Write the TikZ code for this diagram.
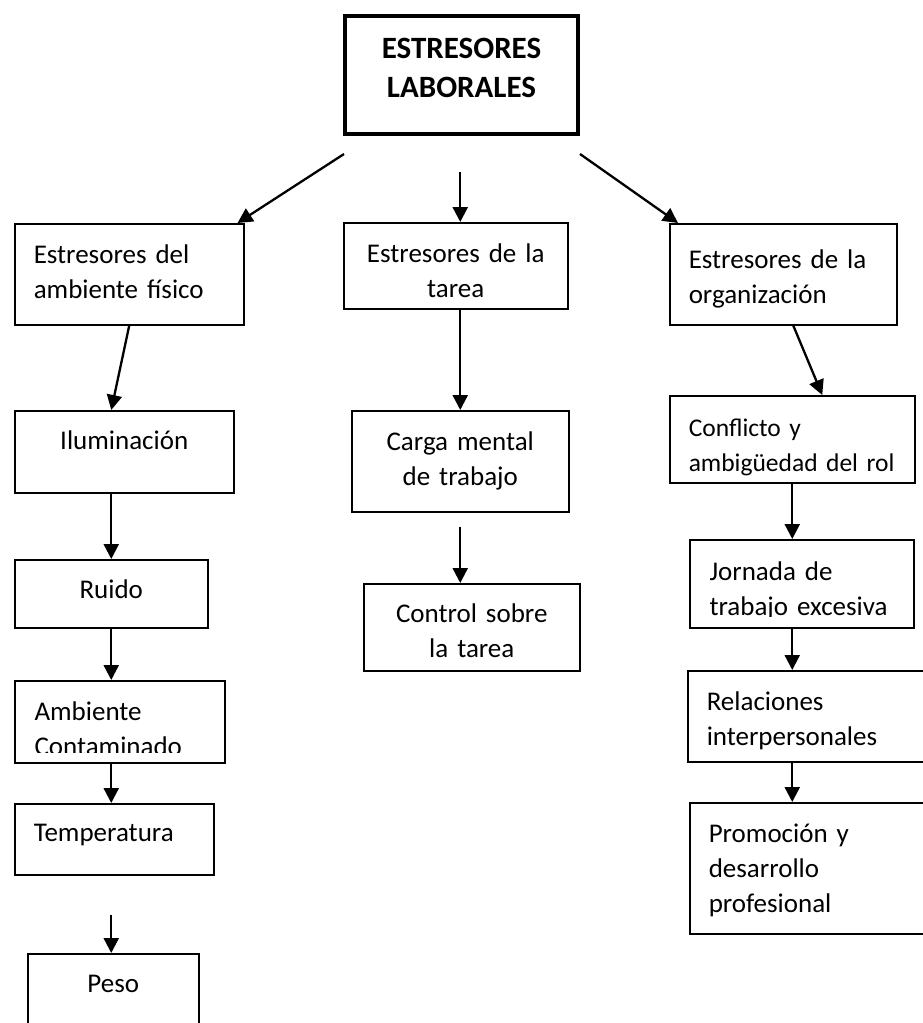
\documentclass[tikz,border=0pt]{standalone}
\usepackage{fontspec}
\setmainfont{Carlito}
\usetikzlibrary{arrows.meta, calc}

\begin{document}
\begin{tikzpicture}[x=1pt, y=-1pt, font=\fontsize{27}{35}\selectfont,
    box/.style={draw, line width=1.5pt, anchor=north west, inner xsep=19pt, inner ysep=0pt, align=left},
    cbox/.style={box, align=center},
    arr/.style={line width=2.3pt, -{Triangle[length=15pt, width=15pt]}}]
  \useasboundingbox (0,0) rectangle (923,1023);
  \node[cbox, line width=4pt, text width=195pt, text height=42pt, text depth=76pt, font=\fontsize{31}{39}\selectfont\bfseries] (top) at (343,14) {ESTRESORES\\LABORALES};
  % left column
  \node[box, text width=191pt, text height=40pt, text depth=61pt] (amb) at (14,223) {Estresores del\\ambiente físico};
  \node[cbox, text width=181pt, text height=39pt, text depth=43pt] (ilum) at (14,410) {Iluminación};
  \node[cbox, text width=155pt, text height=39pt, text depth=29pt] (ruido) at (14,559) {Ruido};
  \node[box, minimum width=210pt, minimum height=82pt, path picture={
      \clip ([yshift=10pt]path picture bounding box.south west) rectangle (path picture bounding box.north east);
      \node[anchor=north west, inner xsep=19pt, inner ysep=0pt, text width=172pt, align=left, text height=31pt] at (path picture bounding box.north west) {Ambiente\\Contaminado};}] (conta) at (14,680) {};
  \node[box, text width=161pt, text height=38pt, text depth=33pt] (temp) at (14,803) {Temperatura};
  \node[cbox, text width=133pt, text height=39pt, text depth=81pt] (peso) at (27,953) {Peso};
  % middle column
  \node[cbox, text width=186pt, text height=40pt, text depth=46pt] (tarea) at (343,222) {Estresores de la\\tarea};
  \node[cbox, text width=179pt, text height=40pt, text depth=61pt] (carga) at (351,410) {Carga mental\\de trabajo};
  \node[cbox, text width=178pt, text height=39pt, text depth=48pt] (ctrl) at (363,583) {Control sobre\\la tarea};
  % right column
  \node[box, text width=189pt, text height=45pt, text depth=56pt] (org) at (669,223) {Estresores de la\\organización};
  \node[box, text width=207pt, text height=41pt, text depth=46pt, font=\fontsize{25.5}{35}\selectfont] (confl) at (669,395) {Conflicto y\\\mbox{ambigüedad del rol}};
  \node[box, minimum width=224pt, minimum height=88pt, path picture={
      \clip ([yshift=11pt]path picture bounding box.south west) rectangle (path picture bounding box.north east);
      \node[anchor=north west, inner xsep=19pt, inner ysep=0pt, text width=186pt, align=left, text height=31pt] at (path picture bounding box.north west) {Jornada de\\\mbox{trabajo excesiva}};}] (jorn) at (689,539) {};
  \node[box, text width=200pt, text height=40pt, text depth=51pt] (rel) at (687,670) {Relaciones\\interpersonales};
  \node[box, text width=197pt, text height=40pt, text depth=91pt] (prom) at (689,802) {Promoción y\\desarrollo\\profesional};

  \draw[arr] ($(top.south west)+(1,18)$) -- ($(amb.north east)+(-7,0)$);
  \draw[arr] ($(carga.north |- top.south)+(0,36)$) -- (carga.north |- tarea.north);
  \draw[arr] ($(top.south east)+(0,18)$) -- ($(org.north west)+(9,0)$);
  \draw[arr] (amb.south) -- (ruido.north |- ilum.north);
  \draw[arr] (ruido.north |- ilum.south) -- (ruido.north);
  \draw[arr] (ruido.south) -- (ruido.south |- conta.north);
  \draw[arr] (ruido.south |- conta.south) -- (ruido.south |- temp.north);
  \draw[arr] ($(ruido.south |- temp.south)+(0,39)$) -- (ruido.south |- peso.north);
  \draw[arr] (carga.north |- tarea.south) -- (carga.north);
  \draw[arr] ($(carga.south)+(0,14)$) -- (carga.south |- ctrl.north);
  \draw[arr] ($(org.south)+(10,0)$) -- ($(confl.north)+(30,0)$);
  \draw[arr] (confl.south) -- (confl.south |- jorn.north);
  \draw[arr] (confl.south |- jorn.south) -- (confl.south |- rel.north);
  \draw[arr] (confl.south |- rel.south) -- (confl.south |- prom.north);
\end{tikzpicture}
\end{document}
